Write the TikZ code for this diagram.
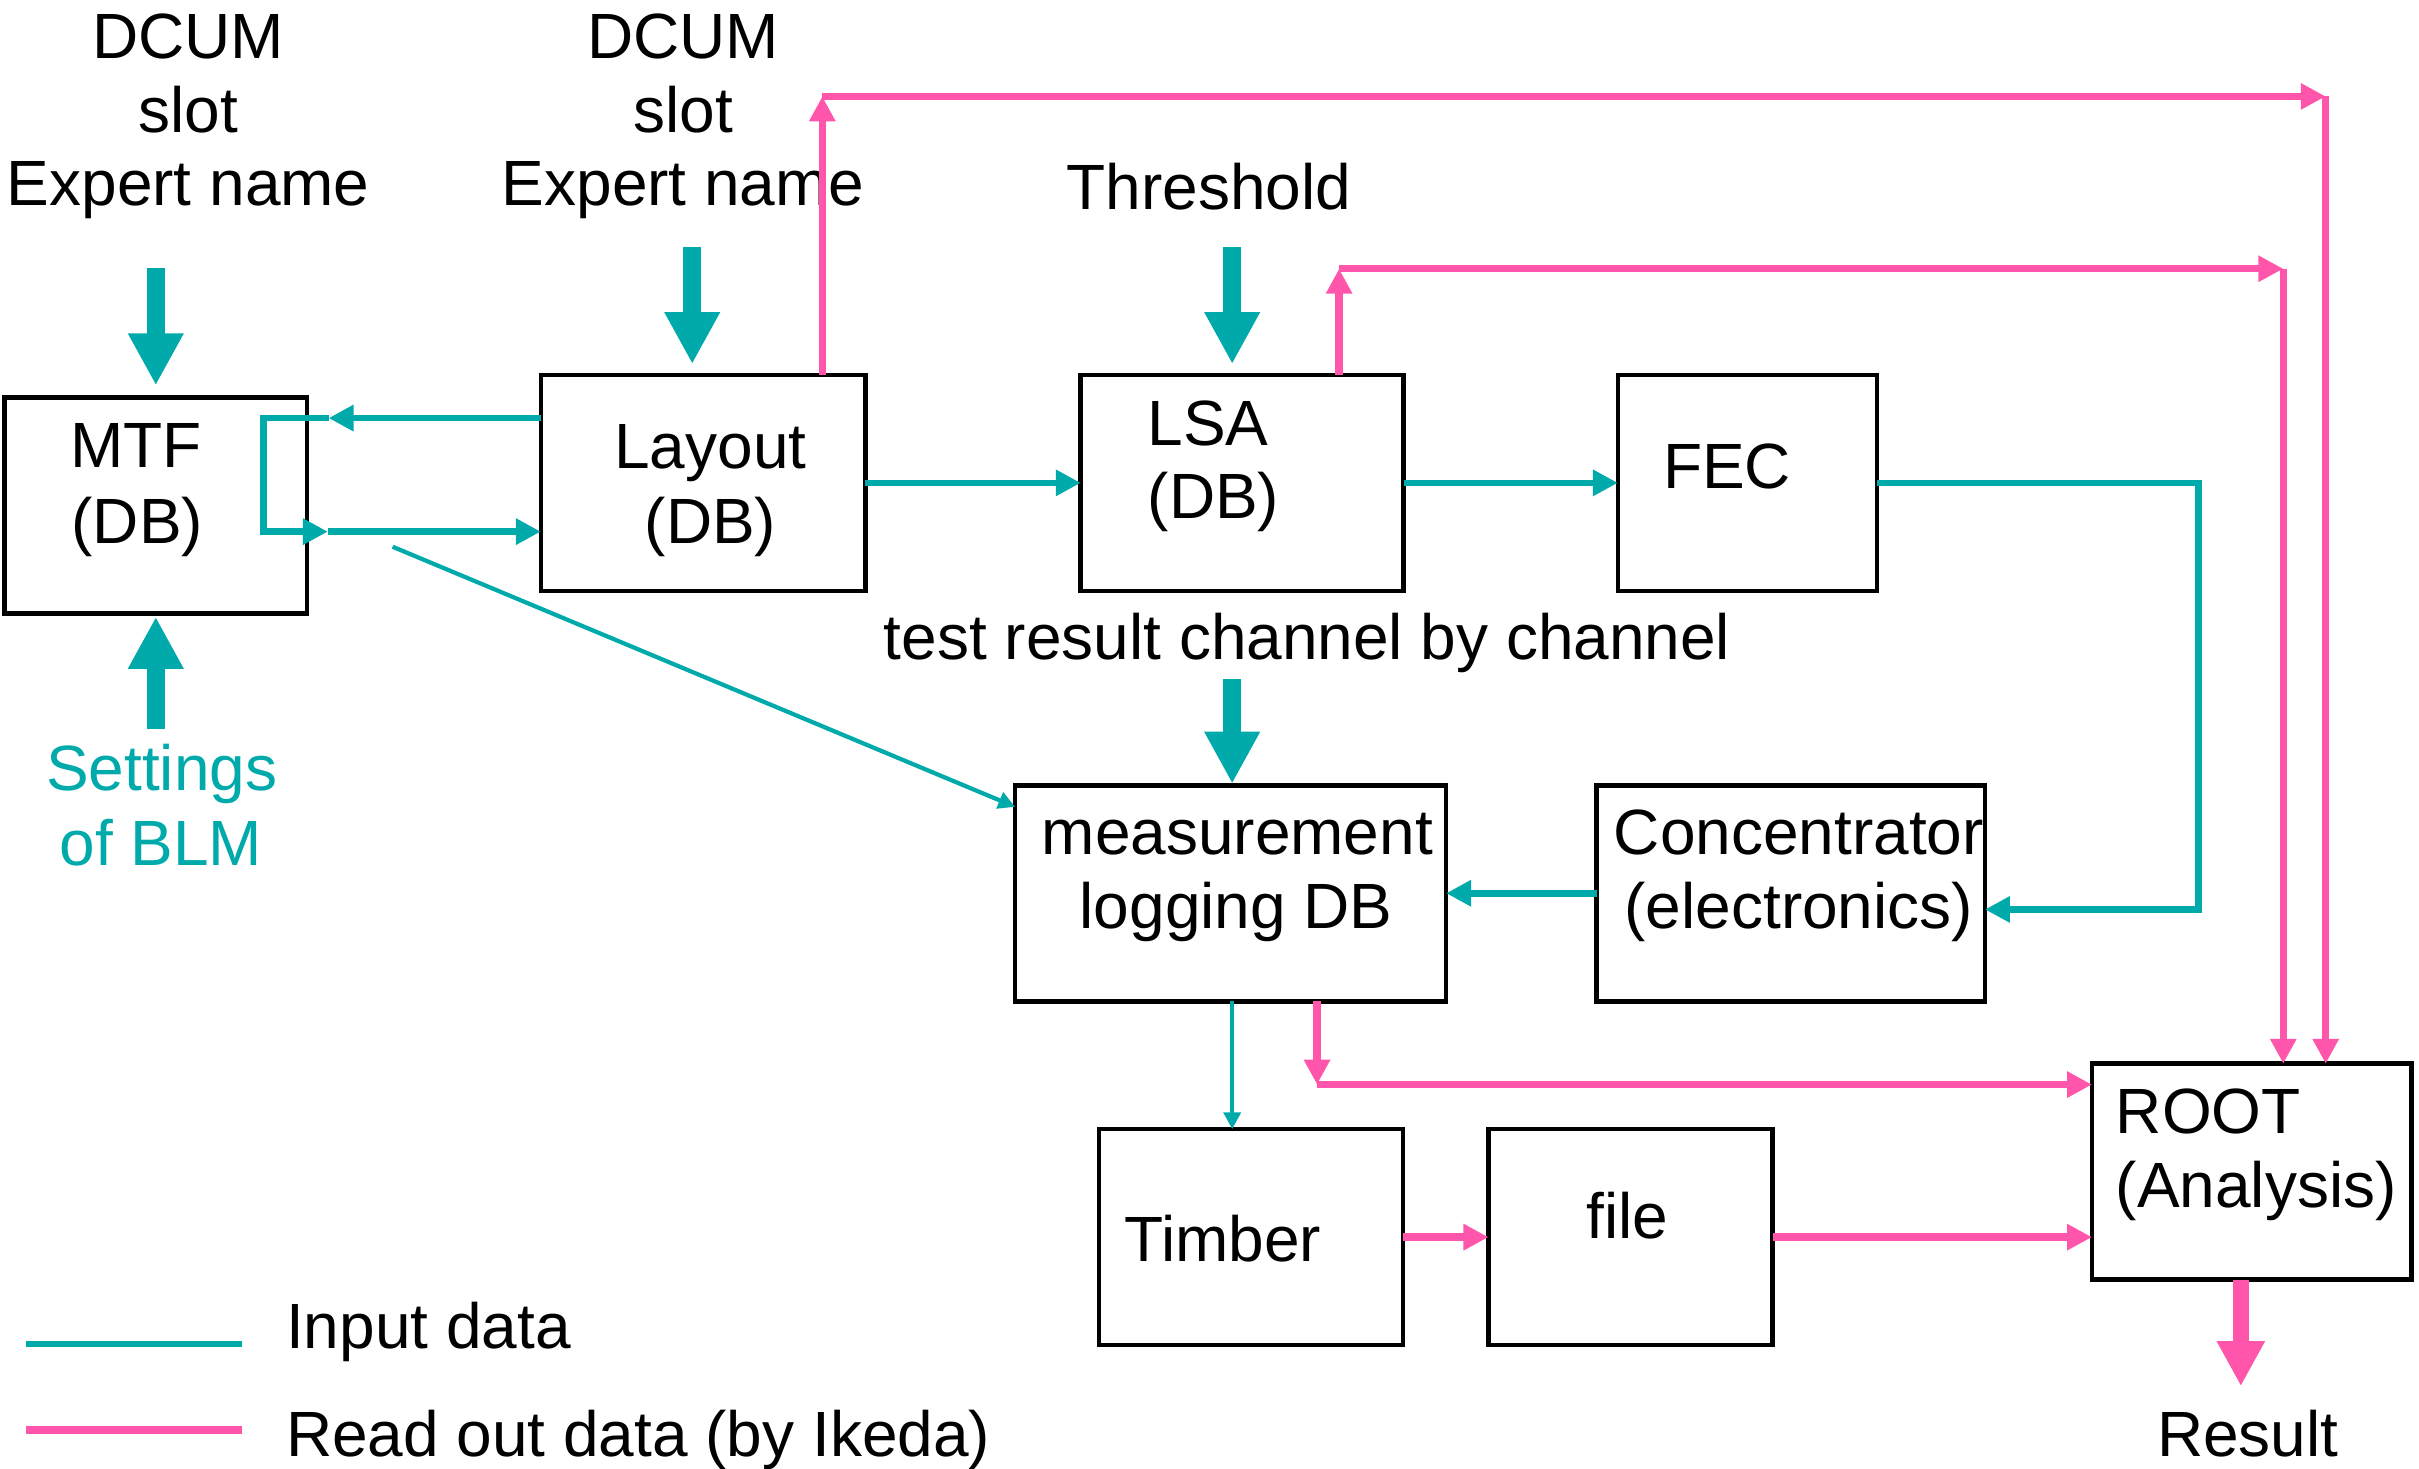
\documentclass[tikz,border=0pt]{standalone}
\usepackage{fontspec}
\setmainfont{Liberation Sans}
\usetikzlibrary{arrows.meta,calc}
\definecolor{inputc}{RGB}{0,170,170}
\definecolor{readc}{RGB}{255,85,170}
\newcommand{\pxu}{0.015427cm}

\begin{document}
\begin{tikzpicture}[x=0.015427cm, y=-0.015427cm,
  box/.style={draw=black, line width=1.3pt, inner sep=0pt, outer sep=0pt, minimum height=140*\pxu},
  lbl/.style={font=\fontsize{18.2}{21.8}\selectfont, inner sep=0pt, anchor=base},
  lblw/.style={lbl, anchor=base west},
  inp/.style={draw=inputc, line width=1.9pt, -{Triangle[length=7.1pt,width=7.1pt]}},
  inpthin/.style={draw=inputc, line width=1.2pt, -{Triangle[length=4.8pt,width=4.8pt]}},
  rd/.style={draw=readc, line width=2.1pt, -{Triangle[length=7.1pt,width=7.1pt]}},
  bigin/.style={draw=inputc, line width=5.1pt, -{Triangle[length=14.8pt,width=14.8pt]}},
  bigrd/.style={draw=readc, line width=4.6pt, -{Triangle[length=12.8pt,width=12.8pt]}},
  legin/.style={draw=inputc, line width=1.6pt},
  legrd/.style={draw=readc, line width=2.3pt},
]
\useasboundingbox (0,0) rectangle (1568,952);

% ---- boxes ----
\node[box, minimum width=196*\pxu]   (mtf)    at (101,327.8)   {};
\node[box, minimum width=210.3*\pxu] (layout) at (455.7,313)   {};
\node[box, minimum width=209.3*\pxu] (lsa)    at (805.2,313)   {};
\node[box, minimum width=168*\pxu]   (fec)    at (1132.7,313)  {};
\node[box, minimum width=279.3*\pxu] (meas)   at (797.7,579)   {};
\node[box, minimum width=251.7*\pxu] (conc)   at (1160.8,579)  {};
\node[box, minimum width=197*\pxu]   (timber) at (810.9,801.9) {};
\node[box, minimum width=184.2*\pxu] (file)   at (1056.9,801.9){};
\node[box, minimum width=207*\pxu]   (root)   at (1459.5,759.5){};

% ---- box texts ----
\node[lbl] (mtf1) at (88,303)      {MTF};
\node[lbl] (mtf2) at (89,352)      {(DB)};
\node[lbl] (lay1) at (460.5,303.5) {Layout};
\node[lbl] (lay2) at (460.5,352)   {(DB)};
\node[lbl] (lsa1) at (783,288.5)   {LSA};
\node[lbl] (lsa2) at (786.6,335.8) {(DB)};
\node[lbl] (fec1) at (1119.5,316.5){FEC};
\node[lbl] (mea1) at (802,553.6)   {measurement};
\node[lbl] (mea2) at (801.3,601.8) {logging DB};
\node[lbl] (con1) at (1166,553.6)  {Concentrator};
\node[lbl] (con2) at (1166,601.8)  {(electronics)};
\node[lbl] (tim1) at (792.7,817.8) {Timber};
\node[lbl] (fil1) at (1055,802.6)  {file};
\node[lblw] (roo1) at (1371,734.4) {ROOT};
\node[lblw] (roo2) at (1371,783)   {(Analysis)};

% ---- free texts ----
\node[lbl] (dcA1) at (122,37.8)    {DCUM};
\node[lbl] (dcA2) at (122,85.9)    {slot};
\node[lbl] (dcA3) at (122,133.5)   {Expert name};
\node[lbl] (dcB1) at (442.8,37.8)  {DCUM};
\node[lbl] (dcB2) at (442.8,85.9)  {slot};
\node[lbl] (dcB3) at (442.8,133.5) {Expert name};
\node[lbl] (thr)  at (783.7,135.5) {Threshold};
\node[lbl] (tst)  at (847.3,427.8) {test result channel by channel};
\node[lbl, text=inputc] (set1) at (104.8,512.5) {Settings};
\node[lbl, text=inputc] (set2) at (104.3,561)   {of BLM};
\node[lbl] (res)  at (1457,943.8)  {Result};

% ---- thick input arrows ----
\draw[bigin] ($(mtf.north)+(0,-84)$) -- ($(mtf.north)+(0,-8)$);
\draw[bigin] ($(layout.north)+(-7,-83)$) -- ($(layout.north)+(-7,-7)$);
\draw[bigin] ($(lsa.north)+(-6.5,-83)$) -- ($(lsa.north)+(-6.5,-7)$);
\draw[bigin] ($(mtf.south)+(0,75)$) -- ($(mtf.south)+(0,2)$);
\draw[bigin] ($(meas.north)+(1,-69)$) -- ($(meas.north)+(1,-1)$);

% ---- input connectors ----
\coordinate (mtfIn)  at (213,271);
\coordinate (mtfOut) at (212.5,344.6);
\draw[inp] (layout.west |- mtfIn) -- (mtfIn);
\draw[inp] (mtfIn) -- ++(-42,0) |- (mtfOut);
\draw[inp] (mtfOut) -- (layout.west |- mtfOut);
\coordinate (diagS) at (254.5,354.4);
\draw[inpthin] (diagS) -- ($(meas.north west)+(0,14)$);
\draw[inp] (layout.east) -- (lsa.west);
\draw[inp] (lsa.east) -- (fec.west);
\draw[inp] (fec.east) -| ($(conc.east)+(138.5,10.5)$) -- ($(conc.east)+(0,10.5)$);
\draw[inp] (conc.west) -- (meas.east);
\coordinate (mtS) at ($(meas.south)+(1,0)$);
\draw[inpthin] (mtS) -- (mtS |- timber.north);

% ---- read-out connectors ----
\coordinate (layUp)  at (533,62.5);
\coordinate (rootA)  at (1507.5,62.5);
\draw[rd] (layout.north -| layUp) -- (layUp);
\draw[rd] (layUp) -- (rootA);
\draw[rd] (rootA) -- (root.north -| rootA);
\coordinate (lsaUp)  at (868,174.2);
\coordinate (rootB)  at (1480,174.2);
\draw[rd] (lsa.north -| lsaUp) -- (lsaUp);
\draw[rd] (lsaUp) -- (rootB);
\draw[rd] (rootB) -- (root.north -| rootB);
\coordinate (measDn) at ($(meas.south)+(56,54)$);
\draw[rd] (meas.south -| measDn) -- (measDn);
\draw[rd] (measDn) -- (root.west |- measDn);
\draw[rd] (timber.east) -- (file.west);
\draw[rd] (file.east) -- (root.west |- file.east);
\draw[bigrd] ($(root.south)+(-7,0)$) -- ($(root.south)+(-7,69)$);

% ---- legend ----
\coordinate (lgA1) at (17,871);
\coordinate (lgA2) at (157,871);
\coordinate (lgB1) at (17,927);
\coordinate (lgB2) at (157,927);
\draw[legin] (lgA1) -- (lgA2);
\draw[legrd] (lgB1) -- (lgB2);
\node[lblw] (lgAt) at (185,874) {Input data};
\node[lblw] (lgBt) at (185,944) {Read out data (by Ikeda)};
\end{tikzpicture}
\end{document}
